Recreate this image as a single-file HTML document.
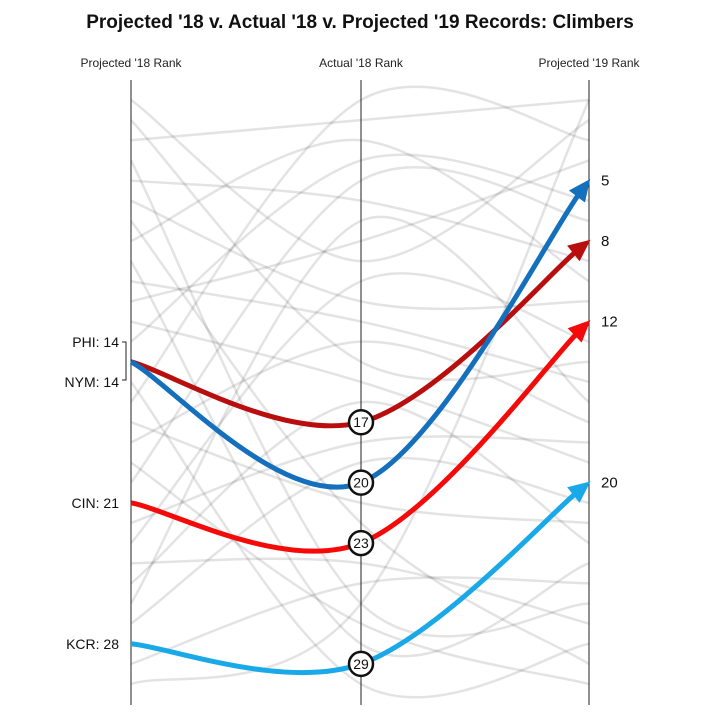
<!DOCTYPE html>
<html><head><meta charset="utf-8">
<style>
html,body{margin:0;padding:0;background:#fff;}
svg{display:block;font-family:"Liberation Sans",sans-serif;}
</style></head>
<body>
<svg id="chart" width="720" height="720" viewBox="0 0 720 720">
<text x="360" y="28" text-anchor="middle" font-size="19" font-weight="bold" fill="#111">Projected '18 v. Actual '18 v. Projected '19 Records: Climbers</text>
<text x="131" y="67" text-anchor="middle" font-size="12" fill="#222">Projected '18 Rank</text>
<text x="361" y="67" text-anchor="middle" font-size="12" fill="#222">Actual '18 Rank</text>
<text x="589" y="67" text-anchor="middle" font-size="12" fill="#222">Projected '19 Rank</text>
<g id="gray"></g>
<line x1="131" y1="80" x2="131" y2="705" stroke="#222" stroke-width="1"/>
<line x1="361" y1="80" x2="361" y2="705" stroke="#222" stroke-width="1"/>
<line x1="589" y1="80" x2="589" y2="705" stroke="#222" stroke-width="1"/>
<g id="hl"></g>
<path d="M122,342 H126 V380 H122" fill="none" stroke="#222" stroke-width="1"/>
</svg>
<script>
// background teams (approximate)
const grayProj18 = [1,2,3,4,5,6,7,8,9,10,11,12,13,15,16,17,18,19,20,22,23,24,25,26,27,29,30];
const grayAct18  = [9,14,2,26,6,11,22,3,28,12,8,15,4,30,1,21,13,27,5,18,10,24,16,7,19,25,26];
const grayProj19 = [2,14,1,26,9,11,29,10,24,15,4,19,6,28,3,22,17,30,7,18,13,27,23,16,21,25,1];
// highlighted climbers
const teams   = ['PHI','NYM','CIN','KCR'];
const proj18  = [14,14,21,28];
const act18   = [17,20,23,29];
const proj19  = [8,5,12,20];
const colors  = ['#b80e0e','#1470bd','#f50a0a','#1aa9e8'];

const X = [131,361,589];
const y = r => 100 + (r-1)*20.14;
const NS = 'http://www.w3.org/2000/svg';
const svg = document.getElementById('chart');

function curve(p, endShorten){
  // catmull-rom through 3 points, horizontal duplicated ends
  const pts = p.map((v,i)=>[X[i],y(v)]);
  const P = [pts[0],...pts,pts[2]];
  let d = `M${pts[0][0]},${pts[0][1]}`;
  for(let i=1;i<3;i++){
    const p0=P[i-1],p1=P[i],p2=P[i+1],p3=P[i+2];
    let e = p2.slice();
    const c1=[p1[0]+(p2[0]-p0[0])/6,p1[1]+(p2[1]-p0[1])/6];
    const c2=[p2[0]-(p3[0]-p1[0])/6,p2[1]-(p3[1]-p1[1])/6];
    if(i===2 && endShorten){
      const dx=p2[0]-c2[0],dy=p2[1]-c2[1],L=Math.hypot(dx,dy);
      e=[p2[0]-dx/L*endShorten,p2[1]-dy/L*endShorten];
    }
    d += ` C${c1[0]},${c1[1]} ${c2[0]},${c2[1]} ${e[0]},${e[1]}`;
  }
  return {d,pts,c2:[P[3][0]-(P[4][0]-P[2][0])/6,P[3][1]-(P[4][1]-P[2][1])/6]};
}

const g = document.getElementById('gray');
grayProj18.forEach((v,i)=>{
  const path=document.createElementNS(NS,'path');
  path.setAttribute('d',curve([v,grayAct18[i],grayProj19[i]]).d);
  path.setAttribute('fill','none');
  path.setAttribute('stroke','rgba(0,0,0,0.11)');
  path.setAttribute('stroke-width','2.5');
  
  
  g.appendChild(path);
});

const hl = document.getElementById('hl');
const order=[0,1,2,3];
order.forEach(i=>{
  const c = curve([proj18[i],act18[i],proj19[i]],14);
  const path=document.createElementNS(NS,'path');
  path.setAttribute('d',c.d);
  path.setAttribute('fill','none');
  path.setAttribute('stroke',colors[i]);
  path.setAttribute('stroke-width','5');
  
  
  hl.appendChild(path);
  // arrow
  const end=c.pts[2], dx=end[0]-c.c2[0], dy=end[1]-c.c2[1], L=Math.hypot(dx,dy);
  const ux=dx/L, uy=dy/L, bx=end[0]-ux*20, by=end[1]-uy*20;
  const tri=document.createElementNS(NS,'polygon');
  tri.setAttribute('points',`${end[0]+ux*2},${end[1]+uy*2} ${bx-uy*10},${by+ux*10} ${bx+uy*10},${by-ux*10}`);
  tri.setAttribute('fill',colors[i]);
  
  
  hl.appendChild(tri);
  // end label
  const t=document.createElementNS(NS,'text');
  t.setAttribute('x',601); t.setAttribute('y',y(proj19[i])+5);
  t.setAttribute('font-size','15'); t.setAttribute('fill','#111');
  t.textContent=proj19[i];
  
  
  svg.appendChild(t);
});
order.forEach(i=>{
  const cy=y(act18[i]);
  const circ=document.createElementNS(NS,'circle');
  circ.setAttribute('cx',361); circ.setAttribute('cy',cy); circ.setAttribute('r',12);
  circ.setAttribute('fill','#fff'); circ.setAttribute('stroke','#111'); circ.setAttribute('stroke-width','2.5');
  
  
  svg.appendChild(circ);
  const t=document.createElementNS(NS,'text');
  t.setAttribute('x',361); t.setAttribute('y',cy+5); t.setAttribute('text-anchor','middle');
  t.setAttribute('font-size','14'); t.setAttribute('fill','#111');
  t.textContent=act18[i];
  
  
  svg.appendChild(t);
});
// left labels
const leftY=[y(proj18[0])-20,y(proj18[1])+20,y(proj18[2]),y(proj18[3])];
teams.forEach((tm,i)=>{
  const t=document.createElementNS(NS,'text');
  t.setAttribute('x',119); t.setAttribute('y',leftY[i]+5); t.setAttribute('text-anchor','end');
  t.setAttribute('font-size','14'); t.setAttribute('fill','#111');
  t.textContent=tm+': '+proj18[i];
  
  
  svg.appendChild(t);
});
</script>
</body></html>
